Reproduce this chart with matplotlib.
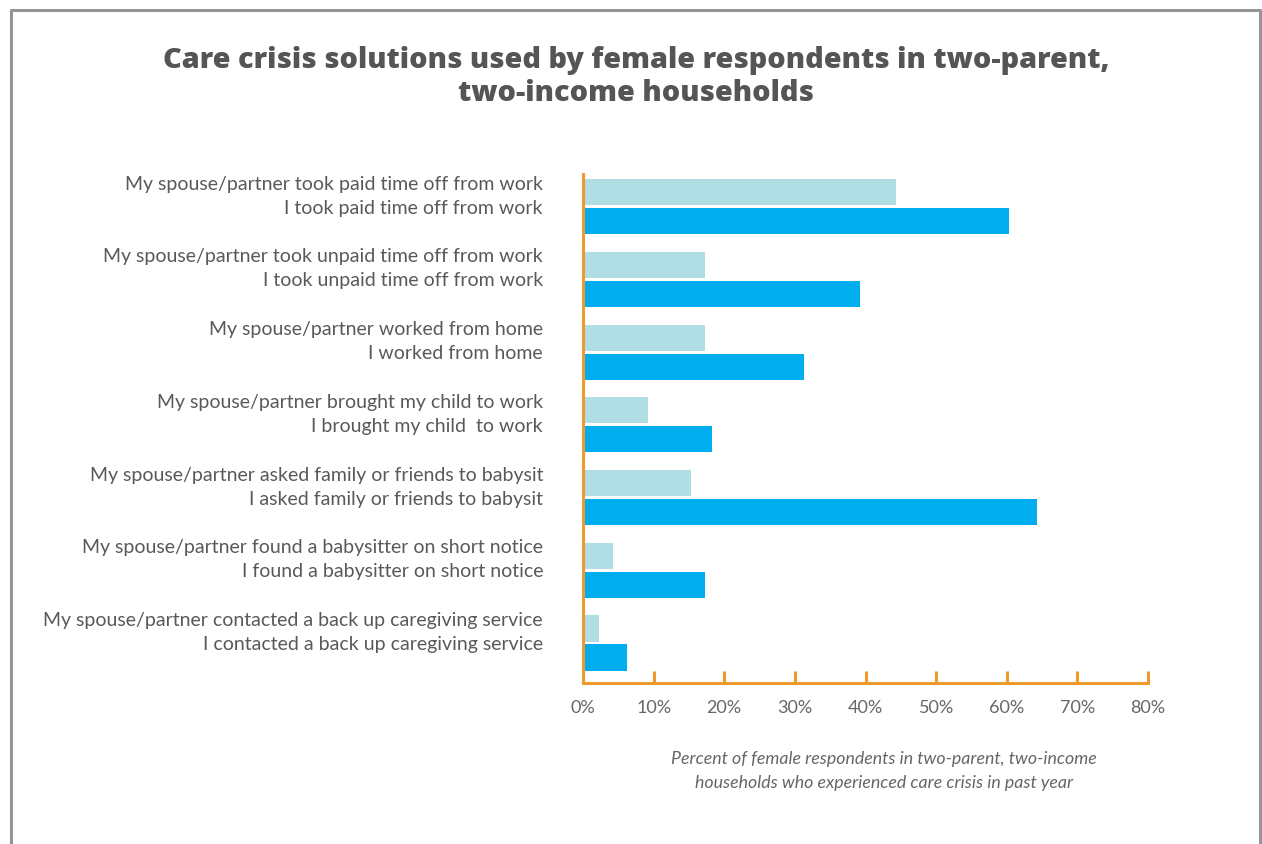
import matplotlib
matplotlib.use("Agg")
import matplotlib.pyplot as plt
from matplotlib.lines import Line2D

plt.rcParams['font.family'] = ['Lato', 'DejaVu Sans']

# Survey answers: partner's action vs. respondent's own action, in percent
partner_labels = [
    "My spouse/partner took paid time off from work",
    "My spouse/partner took unpaid time off from work",
    "My spouse/partner worked from home",
    "My spouse/partner brought my child to work",
    "My spouse/partner asked family or friends to babysit",
    "My spouse/partner found a babysitter on short notice",
    "My spouse/partner contacted a back up caregiving service",
]
self_labels = [
    "I took paid time off from work",
    "I took unpaid time off from work",
    "I worked from home",
    "I brought my child  to work",
    "I asked family or friends to babysit",
    "I found a babysitter on short notice",
    "I contacted a back up caregiving service",
]
partner_pct = [44, 17, 17, 9, 15, 4, 2]
self_pct = [60, 39, 31, 18, 64, 17, 6]
x_ticks = [0, 10, 20, 30, 40, 50, 60, 70, 80]

W, H = 1262, 844
fig = plt.figure(figsize=(W / 100, H / 100), dpi=100)
fig.patch.set_facecolor("white")

# frame around the slide (open at the bottom)
frame = Line2D([10.5 / W, 10.5 / W, 1259.5 / W, 1259.5 / W],
               [0, 1 - 9.5 / H, 1 - 9.5 / H, 0],
               transform=fig.transFigure, color="#959595", lw=2.2)
fig.add_artist(frame)

ax = fig.add_axes([583 / W, 1 - 683 / H, (1148 - 583) / W, (683 - 174) / H])

orange = "#EE9A2F"
light = "#B0DEE4"
dark = "#00AEEF"
grey_txt = "#595959"

n = len(partner_pct)
pos = list(range(n))
bh = 0.36
off = 0.2
ax.barh([p - off for p in pos], partner_pct, height=bh, color=light, left=0.25)
ax.barh([p + off for p in pos], self_pct, height=bh, color=dark, left=0.25)

ax.set_xlim(0, 80)
ax.set_ylim(n - 0.45, -0.45)

for s in ("top", "right"):
    ax.spines[s].set_visible(False)
for s in ("left", "bottom"):
    ax.spines[s].set_color(orange)
    ax.spines[s].set_linewidth(2.2)

ax.set_xticks(x_ticks)
ax.set_xticklabels([f"{t}%" for t in x_ticks])
ax.tick_params(axis="x", direction="in", length=9, width=2.2, color=orange,
               labelsize=13, labelcolor="#666666", pad=12)
ax.set_yticks([])
for lbl in ax.get_xticklabels():
    lbl.set_clip_on(False)

for i in pos:
    ax.annotate(partner_labels[i], xy=(0, i), xycoords=("axes fraction", "data"),
                xytext=(-40, 22.5), textcoords="offset pixels",
                ha="right", va="center", fontsize=14.05, color=grey_txt)
    ax.annotate(self_labels[i], xy=(0, i), xycoords=("axes fraction", "data"),
                xytext=(-40, -1.5), textcoords="offset pixels",
                ha="right", va="center", fontsize=14.05, color=grey_txt)

fig.text(636 / W, 1 - 77 / H,
         "Care crisis solutions used by female respondents in two-parent,\ntwo-income households",
         ha="center", va="center", fontsize=20.8, fontweight=800,
         family=["Open Sans", "DejaVu Sans"],
         color="#555555", linespacing=1.19)

fig.text(884 / W, 1 - 771 / H,
         "Percent of female respondents in two-parent, two-income\nhouseholds who experienced care crisis in past year",
         ha="center", va="center", fontsize=12.8, style="italic",
         color="#666666", linespacing=1.6)

fig.savefig("out.png", dpi=100, facecolor="white")
